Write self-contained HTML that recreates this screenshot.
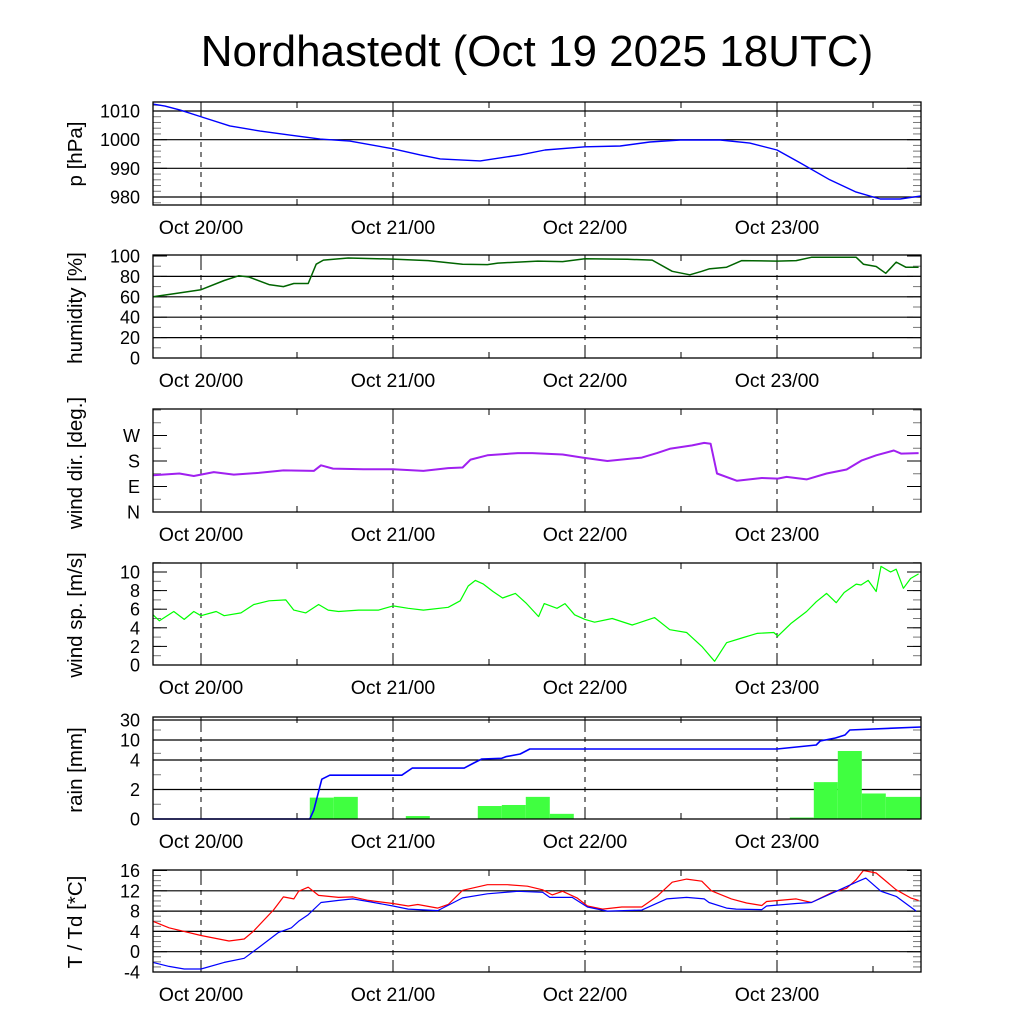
<!DOCTYPE html>
<html><head><meta charset="utf-8"><style>
html,body{margin:0;padding:0;background:#fff;}
svg{display:block;font-family:"Liberation Sans",sans-serif;}
</style></head><body>
<svg id="chart" width="1024" height="1024" viewBox="0 0 1024 1024" xmlns="http://www.w3.org/2000/svg">
<rect x="0" y="0" width="1024" height="1024" fill="#fff"/>
<text x="537" y="66" font-size="44" text-anchor="middle">Nordhastedt (Oct 19 2025 18UTC)</text>
</svg>
<script>
// ---- data (hours since Oct 19 18UTC) ----
const dayLabels = ["Oct 20/00","Oct 21/00","Oct 22/00","Oct 23/00"];
const dayHours = [6,30,54,78];

const pHours = [0,1.5,3.4,6.1,9.6,13.4,17.1,20.9,24.6,30,33.4,35.9,40.9,45.9,49,54,58.4,62.1,65.9,70.9,74.6,78,80.9,84.6,87.8,90.9,93.4,96];
const pVals  = [1012.4,1011.7,1010.3,1007.9,1004.8,1003,1001.6,1000.2,999.5,996.8,994.7,993.3,992.6,994.7,996.4,997.5,997.8,999.2,999.9,999.9,998.8,996.4,991.9,986,981.8,979.3,979.3,980.4];

const hHours = [0,2.6,6,8.9,10.7,12,14.5,16.3,17.6,19.4,20.4,21.3,24.4,30,34.4,38.7,41.8,43.1,48.1,51.2,54,59.3,62.4,64.9,67.1,68.6,69.5,71.7,73.6,78,80.4,82.3,87.9,88.8,90.4,91.6,92.9,94.1,95.7];
const hVals  = [60,63,67,76,80.6,79.4,72,70,73,73,92,96,98,97,95.5,92,91.6,93,95,94.5,97.4,96.8,96,85,81.6,85,87.4,89,95.5,95,95.5,98.7,98.7,92,89.7,83,94,89,89];

const dHours = [0,3.3,5.1,7.6,10.1,13.2,16.3,20.1,21,22.5,26.3,30,33.8,36.9,38.7,39.7,41.8,45.6,47.4,51.2,53.7,56.8,61.1,63,64.6,67.4,68.9,69.7,70.5,73,76.1,78.1,79.2,81.7,84.2,86.7,88.6,90.4,92.6,93.5,95.7];
const dVals  = [130,136,127,141,132,138,147,145,165,153,151,151,145,155,157,185,200,208,208,203,192,180,192,208,223,235,244,241,136,110,120,118,124,115,136,150,182,200,217,206,208];

const sHours = [0,0.8,2.6,3.9,5.1,6,7.9,8.9,11,12.6,14.5,16.6,17.6,19.1,20.7,21.9,23.2,25.7,28.2,30,31.9,33.8,36.9,38.4,39.4,40.3,41.3,42.5,43.7,45.3,46.7,48.2,48.9,50.5,51.5,52.7,54,55.2,57.4,59.9,62.7,64.6,66.7,68.6,70.2,71.7,73.6,75.5,77.6,78.1,79.8,81.7,82.9,84.2,85.4,86.4,87.9,88.5,89.4,90.4,91,92.2,92.9,93.8,94.7,95.7];
const sVals  = [5.4,4.75,5.75,4.9,5.75,5.3,5.75,5.3,5.6,6.5,6.9,7.0,5.9,5.6,6.5,5.9,5.75,5.9,5.9,6.35,6.1,5.9,6.2,6.9,8.5,9.1,8.7,7.9,7.2,7.7,6.6,5.2,6.6,6.1,6.6,5.4,4.9,4.6,5.0,4.3,5.1,3.8,3.5,2.0,0.4,2.4,2.9,3.4,3.5,3.1,4.5,5.75,6.8,7.7,6.7,7.8,8.7,8.6,9.1,7.9,10.6,10.0,10.3,8.25,9.3,9.8];

const rainStart = [19.6,22.6,31.6,40.6,43.6,46.6,49.6,76.6,79.6,82.6,85.6,88.6,91.6];
const rainVals  = [1.45,1.5,0.2,0.88,0.95,1.5,0.35,0.03,0.1,2.5,6.7,1.73,1.5];
const rainWidth = [3,3,3,3,3,3,3,3,3,3,3,3,4.4];
const cumHours = [0,19.6,20.1,21.1,22.1,31.1,32.4,38.9,40.1,41.1,43.6,44.1,45.9,47.1,48.1,54,78,82.9,83.4,85.3,86.5,87.1,96];
const cumVals  = [0,0,0.6,2.7,2.97,2.97,3.45,3.45,3.8,4.3,4.5,5.0,5.8,7.3,7.3,7.3,7.3,8.5,9.7,12,15,20,23];

const tHours = [0,2,6,9.5,11.4,12.6,15.1,16.3,17.6,18.2,19.4,20.7,23.2,25,26.9,30,31.9,33.1,35.6,36.9,38.7,41.8,44.3,46.8,48.7,49.9,51.2,53,54.3,56.2,58.6,61.1,63,64.9,66.7,68.6,69.8,72.3,74.2,76.1,76.7,80.4,82.3,84.8,86.7,87.9,88.8,90.4,92.9,94.7,95.7];
const tVals  = [6.0,4.7,3.2,2.1,2.5,4.1,8.3,10.8,10.4,11.9,12.7,11.1,10.7,10.8,10.1,9.5,9.0,9.3,8.6,9.3,12.1,13.2,13.2,12.9,12.2,11.2,11.9,10.6,9.0,8.4,8.8,8.8,10.9,13.7,14.3,13.9,12.0,10.4,9.6,9.1,9.9,10.4,9.7,11.6,12.5,14.2,16,15.5,12.2,10.6,10.1];
const tdHours = [0,2,3.9,6,8.9,11.4,13.2,15.7,17.3,18.2,19.4,21,23.2,25,26.9,30,31.9,35.6,38.7,41.8,45.6,48.7,49.6,52.4,54.3,56.8,61.1,64.2,66.7,68.9,69.5,71.7,72.9,76.1,76.7,80.4,82.3,85.4,87.9,89.1,91,92.9,95.4];
const tdVals  = [-2.1,-2.9,-3.4,-3.4,-2.1,-1.3,0.8,3.8,4.7,6.0,7.3,9.7,10.1,10.4,9.9,9.0,8.4,8.1,10.6,11.4,11.9,11.7,10.7,10.7,8.8,8.0,8.2,10.4,10.7,10.4,9.7,8.6,8.4,8.3,9.0,9.5,9.7,11.9,13.7,14.5,11.9,10.9,8.0];

const pTicks = [980,990,1000,1010];
const hTicks = [0,20,40,60,80,100];
const dTickLabels = ["N","E","S","W"];
const dTicks = [0,90,180,270];
const sTicks = [0,2,4,6,8,10];
const rainTickLabels = ["0","2","4","10","30"];
const rainTicks = [0,2,4,10,30];
const tTicks = [-4,0,4,8,12,16];

// ---- layout ----
const svg = document.getElementById('chart');
const NS = 'http://www.w3.org/2000/svg';
const X0 = 153, X1 = 921, HMAX = 96;
const xs = h => X0 + (h / HMAX) * (X1 - X0);
function el(tag, attrs, parent) {
  const e = document.createElementNS(NS, tag);
  for (const k in attrs) e.setAttribute(k, attrs[k]);
  (parent || svg).appendChild(e);
  return e;
}
function linScale(v0, v1, y0, y1) { return v => y0 + (v - v0) / (v1 - v0) * (y1 - y0); }
const rainKnots = [0,2,4,10,30];
const rainPix = [819,789.5,760,740,720];
function rainY(v) {
  for (let i = 0; i < rainKnots.length - 1; i++) {
    if (v <= rainKnots[i+1]) return rainPix[i] + (v - rainKnots[i]) / (rainKnots[i+1] - rainKnots[i]) * (rainPix[i+1] - rainPix[i]);
  }
  return rainPix[rainPix.length-1];
}

function panel(name, top, bot, yfun, ticks, labels, grid, minorVals, ytitle, titleY) {
  const g = el('g', {});
  
  
  if (grid) ticks.forEach(v => {
    const y = yfun(v);
    if (y > top + 1 && y < bot - 1) {
      const l = el('line', {x1: X0, x2: X1, y1: y, y2: y, stroke: '#000', 'stroke-width': 1.2}, g);
      
      
    }
  });
  dayHours.forEach(h => {
    const l = el('line', {x1: xs(h), x2: xs(h), y1: top, y2: bot, stroke: '#000', 'stroke-width': 1, 'stroke-dasharray': '5,5'}, g);
    
    
    el('line', {x1: xs(h), x2: xs(h), y1: bot - 12, y2: bot, stroke: '#000', 'stroke-width': 1}, g);
    el('line', {x1: xs(h), x2: xs(h), y1: top, y2: top + 12, stroke: '#000', 'stroke-width': 1}, g);
  });
  [18,42,66,90].forEach(h => {
    el('line', {x1: xs(h), x2: xs(h), y1: bot - 6, y2: bot, stroke: '#000', 'stroke-width': 1}, g);
    el('line', {x1: xs(h), x2: xs(h), y1: top, y2: top + 6, stroke: '#000', 'stroke-width': 1}, g);
  });
  minorVals.forEach(v => {
    const y = yfun(v);
    el('line', {x1: X0, x2: X0 + 8, y1: y, y2: y, stroke: '#777', 'stroke-width': 1}, g);
    el('line', {x1: X1 - 8, x2: X1, y1: y, y2: y, stroke: '#777', 'stroke-width': 1}, g);
  });
  ticks.forEach((v, i) => {
    const y = yfun(v);
    el('line', {x1: X0, x2: X0 + 14, y1: y, y2: y, stroke: '#000', 'stroke-width': 1}, g);
    el('line', {x1: X1 - 14, x2: X1, y1: y, y2: y, stroke: '#000', 'stroke-width': 1}, g);
    const t = el('text', {x: 140, y: y + 6.5, 'font-size': 18, 'text-anchor': 'end'}, g);
    t.textContent = labels[i];
    
    
  });
  dayHours.forEach((h, i) => {
    const t = el('text', {x: xs(h), y: bot + 29, 'font-size': 19.5, 'text-anchor': 'middle'}, g);
    t.textContent = dayLabels[i];
    
    
  });
  const yt = el('text', {x: 0, y: 0, 'font-size': 20.5, 'text-anchor': 'middle', transform: `translate(82,${titleY}) rotate(-90)`}, g);
  yt.textContent = ytitle;
  
  
  return g;
}
function frame(name, top, bot) {
  const r = el('rect', {x: X0, y: top, width: X1 - X0, height: bot - top, fill: 'none', stroke: '#000', 'stroke-width': 1.3});
  
  
}
function series(name, hours, vals, yfun, color, w) {
  const d = hours.map((h, i) => (i ? 'L' : 'M') + xs(h).toFixed(1) + ',' + yfun(vals[i]).toFixed(1)).join(' ');
  const p = el('path', {d: d, fill: 'none', stroke: color, 'stroke-width': w || 1.3, 'stroke-linejoin': 'round'});
  
  
}
function range(a, b, s) { const r = []; for (let v = a; v <= b + 1e-9; v += s) r.push(v); return r; }

const pY = linScale(980, 1010, 197, 111);
panel('pressure', 102, 205, pY, pTicks, pTicks.map(String), true, range(978, 1012, 2), 'p [hPa]', 154);
series('pressure-line', pHours, pVals, pY, '#0000ff', 1.4);
frame('pressure', 102, 205);

const hY = linScale(0, 100, 358, 256);
panel('humidity', 255, 358, hY, hTicks, hTicks.map(String), true, range(0, 100, 10), 'humidity [%]', 308);
series('humidity-line', hHours, hVals, hY, '#006400', 1.5);
frame('humidity', 255, 358);

const dY = linScale(0, 270, 512, 435.5);
panel('wind-direction', 409, 512, dY, dTicks, dTickLabels, false, range(0, 360, 45), 'wind dir. [deg.]', 463);
series('wind-direction-line', dHours, dVals, dY, '#a020f0', 2);
frame('wind-direction', 409, 512);

const sY = linScale(0, 10, 665, 572);
panel('wind-speed', 563, 665, sY, sTicks, sTicks.map(String), false, range(0, 11, 1), 'wind sp. [m/s]', 615);
series('wind-speed-line', sHours, sVals, sY, '#00ff00', 1.2);
frame('wind-speed', 563, 665);

panel('rain', 717, 819, rainY, rainTicks, rainTickLabels, true, [1,3,6,20], 'rain [mm]', 770);
rainStart.forEach((h, i) => {
  const y = rainY(rainVals[i]);
  const b = el('rect', {x: xs(h), y: y, width: xs(h + rainWidth[i]) - xs(h), height: 819 - y, fill: '#40ff40'});
  
  
});
series('cumulative-rain-line', cumHours, cumVals, rainY, '#0000ff', 1.6);
frame('rain', 717, 819);

const tY = linScale(-4, 16, 972, 870.5);
panel('temperature', 870, 972, tY, tTicks, tTicks.map(String), true, range(-4, 16, 1), 'T / Td [*C]', 922);
series('temperature-line', tHours, tVals, tY, '#ff0000', 1.2);
series('dewpoint-line', tdHours, tdVals, tY, '#0000ff', 1.2);
frame('temperature', 870, 972);
</script>
</body></html>
